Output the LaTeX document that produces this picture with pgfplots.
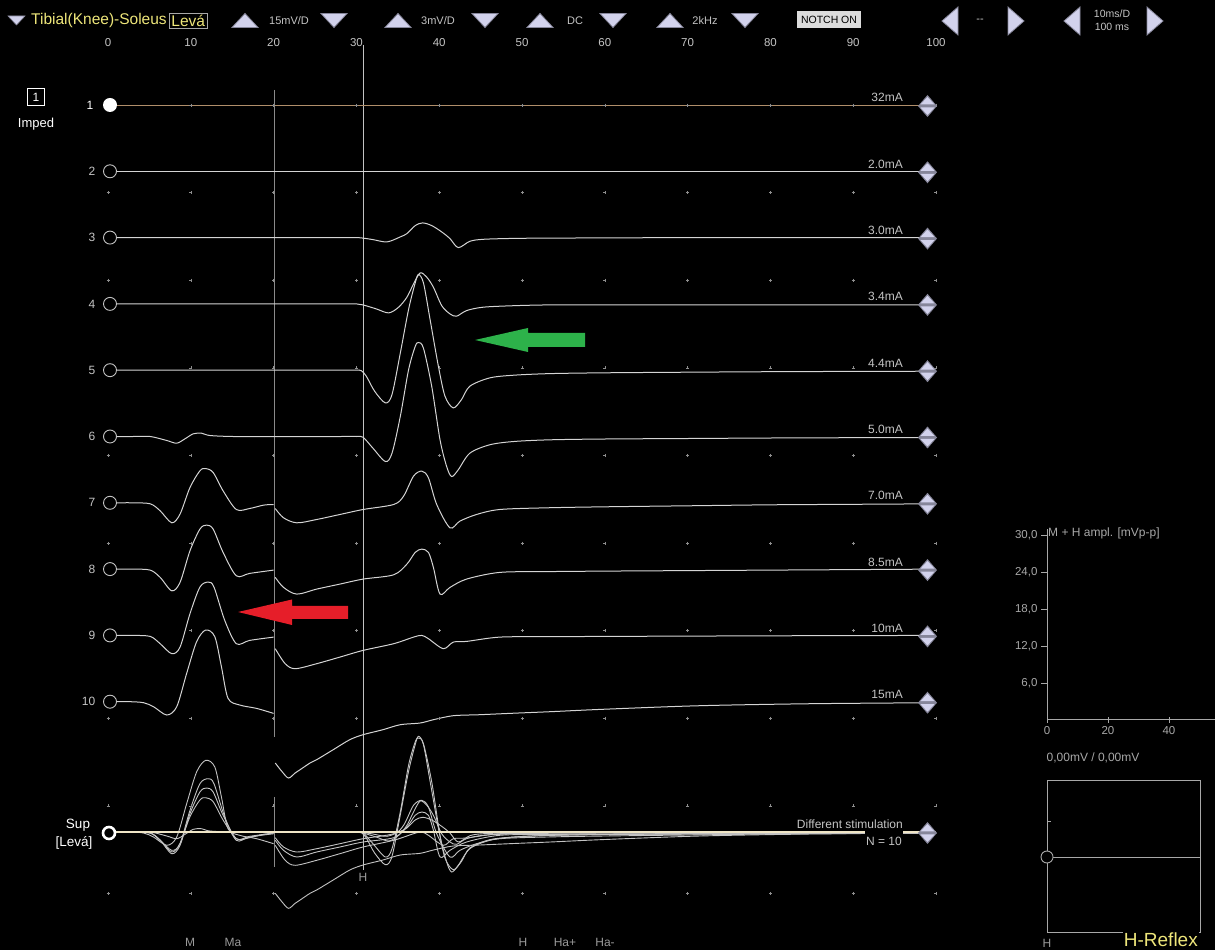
\documentclass[border=0pt]{standalone}
\usepackage{pgfplots}
\usepackage{pgfplotstable}
\pgfplotsset{compat=1.18}
\usepackage{fontspec}
\setmainfont{Liberation Sans}

\definecolor{trc}{HTML}{D4D4D4}
\definecolor{txt}{HTML}{C4C4C4}
\definecolor{dimtxt}{HTML}{9A9A9A}
\definecolor{ylw}{HTML}{EEE67A}
\definecolor{tanline}{HTML}{B08E6A}
\definecolor{cream}{HTML}{EFE5C6}
\definecolor{lav}{HTML}{D2D2EC}
\definecolor{btnedge}{HTML}{86869A}
\definecolor{gridc}{HTML}{8E8E8E}
\definecolor{cur20}{HTML}{8A8A8A}
\definecolor{curH}{HTML}{C2C2C2}
\definecolor{notch}{HTML}{DCDCDC}
\definecolor{pgray}{HTML}{A8A8A8}
\definecolor{arrowg}{HTML}{2DB24A}
\definecolor{arrowr}{HTML}{E61E29}

\newcommand\fs[1]{\fontsize{#1}{#1}\selectfont}

% time (ms) against amplitude (display units, positive = up) for each stimulus
\pgfplotstableread{
t a
1.0 0
100 0
}\tFlat
\pgfplotstableread{
t a
1.0 0
6 0
12 0
18 0
24 0
28 0
30.0 0
30.8 -0.5
32.0 -2
33.7 -4.3
35.3 0.7
36.1 4
37.1 12
38.0 14.7
39.1 12
40.3 5.7
41.3 -1
42.3 -10
43.7 -3.7
45.3 -1.7
49 -0.8
53.4 -0.5
60 -0.3
70 0
80 0
90 0
100 0
}\tIII
\pgfplotstableread{
t a
1.0 0
6 0
12 0
18 0
24 0
28 0
30.0 0
30.8 -1
32.4 -5
33.9 -9
35.1 -3.3
36.1 6.7
36.9 20
37.7 31
38.5 26.7
39.3 16.7
40.3 -1.7
41.3 -10
42.1 -12.3
43.3 -6.7
45.3 -3.3
49 -1.8
53.4 -1
60 -1
70 -1
80 -1
90 -1
100 -1
}\tIV
\pgfplotstableread{
t a
1.0 0
6 0
12 0
18 0
24 0
28 0
30.0 0
30.6 -0.5
31.2 -6
32.2 -21
33.5 -32.7
34.3 -24.3
35.3 17
36.3 60.7
37.1 87.3
37.5 95.7
38.1 87.3
38.9 50.7
39.9 4
40.7 -26
41.7 -37.7
42.7 -29.3
43.7 -16
46.1 -7.7
49 -5
53.4 -3.4
60 -2.6
70 -2
80 -1.5
90 -1.2
100 -1
}\tV
\pgfplotstableread{
t a
1.0 0
3 0
5.1 0
7.1 -4
8.3 -6.7
9.3 -2.3
10.3 2.7
11.3 3.3
12.3 1
15.1 0
20 0
25 0
28 0
30.0 0
30.8 -0.7
32.0 -11.7
33.5 -25
34.3 -16.7
35.3 20
36.3 66.7
37.1 90
37.5 94
38.1 88.3
39.1 50
40.1 -3.3
40.9 -30
41.5 -40
42.3 -33.3
43.7 -16.7
46.1 -8.3
49 -5
53.4 -3.3
60 -2.5
70 -2
80 -1.5
90 -1.2
100 -1
}\tVI
\pgfplotstableread{
t a
1.0 0
3 0
5.1 -1
6.3 -8
7.7 -20
8.7 -11.3
9.9 15.3
11.1 32
11.8 34.3
12.7 30.3
13.9 12
15.5 -6.7
17.1 -5.7
18.8 -2.3
20.0 -1.7
20.1 nan
20.2 -5.7
21.2 -15
22.8 -20
25.2 -16.7
28.0 -11.7
30.8 -6.7
34.5 -1.7
35.7 6.7
36.9 26.7
37.9 31.7
38.7 25
39.7 -1.7
41.3 -25
42.5 -18.3
44.5 -11.7
47.3 -6.7
53 -5
60 -4
70 -3
80 -2
90 -1.5
100 -1
}\tVII
\pgfplotstableread{
t a
1.0 0
3 0
5.1 -1
6.3 -8.3
7.7 -21.7
8.7 -13.3
9.9 18.3
11.1 40
11.9 44
12.7 40
13.9 16.7
15.5 -6.7
17.1 -4.3
20.0 -1
20.1 nan
20.2 -8.3
21.2 -18.3
22.8 -25
25.2 -20
28.0 -15
30.8 -10
34.5 -5.7
36.1 5
37.1 16.7
37.9 20
38.7 16.7
39.3 1.7
40.1 -25
41.3 -18.3
43.3 -10
47.3 -3.3
53 -2.5
60 -2
70 -1.5
80 -1
90 -0.5
100 0
}\tVIII
\pgfplotstableread{
t a
1.0 0
3 0
5.1 -1
6.3 -8.3
7.7 -18.3
8.7 -11.7
9.9 21.7
11.1 48.3
12.1 53.3
12.8 48.3
14.1 15
15.5 -8.3
17.1 -5
20.0 -1.7
20.1 nan
20.2 -13.3
21.4 -28.3
22.6 -33.3
25.2 -28.3
28.0 -21.7
30.8 -15
34.5 -8.3
36.9 -1.7
37.9 0
38.7 -3.3
40.5 -13.3
41.7 -6.7
43.3 -6
47.3 -1.7
53 -1.3
60 -1
70 -0.7
80 -0.4
90 -0.2
100 0
}\tIX
\pgfplotstableread{
t a
1.0 0
2.7 0
4.3 -1
5.5 -5
7.1 -13.3
8.3 -5
9.5 28.3
10.7 60
11.8 71.7
12.9 65
13.7 35
14.5 3.3
15.9 -3.3
17.95 -6.7
20.0 -11.7
20.1 nan
20.2 -61.3
21.0 -69.7
21.8 -76.3
22.6 -71.3
23.2 -68
24.4 -61.3
25.2 -58
27.2 -48
29.2 -38
30.8 -33
33.2 -28
35.3 -23
37.7 -21.3
39.3 -18
41.7 -14
44.9 -13
49 -11.5
53.4 -10
60 -7.5
71.5 -4
85 -2
100 -1
}\tX

\pgfplotsset{
  tr/.style={trc, line width=1pt, smooth},
  sp/.style={trc!92!black, line width=0.9pt, smooth},
}
\newcommand\rowplot[3]{\addplot[#3] table[x=t, y expr={#2-(\thisrow{a})}] {#1};}

\tikzset{
  ui/.style={text=txt, font=\fs{12}, inner sep=0pt},
}
\newcommand\upbtn[1]{\filldraw[fill=lav, draw=btnedge, line width=0.8pt] (#1-13,27.5) -- (#1+13,27.5) -- (#1,13.5) -- cycle;}
\newcommand\dnbtn[1]{\filldraw[fill=lav, draw=btnedge, line width=0.8pt] (#1-13,13.5) -- (#1+13,13.5) -- (#1,27.5) -- cycle;}
\newcommand\lfbtn[1]{\filldraw[fill=lav, draw=btnedge, line width=0.8pt] (#1+8,7) -- (#1+8,35) -- (#1-8,21) -- cycle;}
\newcommand\rtbtn[1]{\filldraw[fill=lav, draw=btnedge, line width=0.8pt] (#1-8,7) -- (#1-8,35) -- (#1+8,21) -- cycle;}
\newcommand\diamondbtn[1]{%
  \fill[btnedge] (918,#1+1) -- (927.5,#1-10) -- (937,#1+1) -- (927.5,#1+12) -- cycle;
  \fill[lav] (920.5,#1-0.5) -- (927.5,#1-8) -- (934.5,#1-0.5) -- cycle;
  \fill[lav] (920.5,#1+2.5) -- (927.5,#1+10) -- (934.5,#1+2.5) -- cycle;}

\begin{document}
\begin{tikzpicture}
% screen background and cursor lines (pixel-like coordinates, y downwards)
\begin{scope}[x=1pt, y=-1pt, shift={(0,950pt)}]
  \fill[black] (0,0) rectangle (1215,950);
  \draw[cur20, line width=0.9pt] (274,90) -- (274,737);
  \draw[cur20, line width=0.9pt] (274,797) -- (274,867);
  \draw[curH, line width=0.9pt] (363,45) -- (363,870);
\end{scope}

% traces: x in ms, y in screen rows
\begin{axis}[at={(0pt,0pt)}, anchor=south west, width=1215pt, height=950pt,
  scale only axis, xmin=-13.0435, xmax=133.6957, ymin=0, ymax=950,
  y dir=reverse, hide axis, clip=false, unbounded coords=jump]
  \addplot[only marks, mark=+, mark size=1.5pt, gridc, mark options={line width=0.5pt}] coordinates {
  (0,105)(10,105)(20,105)(30,105)(40,105)(50,105)(60,105)(70,105)(80,105)(90,105)(100,105)
  (0,192.6)(10,192.6)(20,192.6)(30,192.6)(40,192.6)(50,192.6)(60,192.6)(70,192.6)(80,192.6)(90,192.6)(100,192.6)
  (0,280.2)(10,280.2)(20,280.2)(30,280.2)(40,280.2)(50,280.2)(60,280.2)(70,280.2)(80,280.2)(90,280.2)(100,280.2)
  (0,367.8)(10,367.8)(20,367.8)(30,367.8)(40,367.8)(50,367.8)(60,367.8)(70,367.8)(80,367.8)(90,367.8)(100,367.8)
  (0,455.4)(10,455.4)(20,455.4)(30,455.4)(40,455.4)(50,455.4)(60,455.4)(70,455.4)(80,455.4)(90,455.4)(100,455.4)
  (0,543)(10,543)(20,543)(30,543)(40,543)(50,543)(60,543)(70,543)(80,543)(90,543)(100,543)
  (0,630.6)(10,630.6)(20,630.6)(30,630.6)(40,630.6)(50,630.6)(60,630.6)(70,630.6)(80,630.6)(90,630.6)(100,630.6)
  (0,718.2)(10,718.2)(20,718.2)(30,718.2)(40,718.2)(50,718.2)(60,718.2)(70,718.2)(80,718.2)(90,718.2)(100,718.2)
  (0,805.8)(10,805.8)(20,805.8)(30,805.8)(40,805.8)(50,805.8)(60,805.8)(70,805.8)(80,805.8)(90,805.8)(100,805.8)
  (0,893.4)(10,893.4)(20,893.4)(30,893.4)(40,893.4)(50,893.4)(60,893.4)(70,893.4)(80,893.4)(90,893.4)(100,893.4)
  };
  % individual responses, one row per stimulus intensity
  \rowplot{\tFlat}{105}{tanline, line width=1pt}
  \rowplot{\tFlat}{171.3}{tr}
  \rowplot{\tIII}{237.6}{tr}
  \rowplot{\tIV}{303.9}{tr}
  \rowplot{\tV}{370.2}{tr}
  \rowplot{\tVI}{436.5}{tr}
  \rowplot{\tVII}{502.8}{tr}
  \rowplot{\tVIII}{569.1}{tr}
  \rowplot{\tIX}{635.4}{tr}
  \rowplot{\tX}{701.7}{tr}
  % superimposed responses
  \rowplot{\tIII}{832}{sp}
  \rowplot{\tIV}{832}{sp}
  \rowplot{\tV}{832}{sp}
  \rowplot{\tVI}{832}{sp}
  \rowplot{\tVII}{832}{sp}
  \rowplot{\tVIII}{832}{sp}
  \rowplot{\tIX}{832}{sp}
  \rowplot{\tX}{832}{sp}
  \rowplot{\tFlat}{832}{cream, line width=2.6pt}
\end{axis}

\begin{scope}[x=1pt, y=-1pt, shift={(0,950pt)}]
  % header bar
  \filldraw[fill=lav, draw=btnedge, line width=0.6pt] (8,16) -- (25,16) -- (16.5,25) -- cycle;
  \node[anchor=west, text=ylw, font=\fs{15.5}, inner sep=0pt] at (31,21) {Tibial(Knee)-Soleus};
  \node[anchor=west, text=ylw, font=\fs{15.5}, draw=pgray, line width=0.8pt, inner sep=2pt] at (169,21) {Levá};
  \upbtn{245}\node[ui, font=\fs{11}] at (289,21) {15mV/D};\dnbtn{334}
  \upbtn{398}\node[ui, font=\fs{11}] at (438,21) {3mV/D};\dnbtn{485}
  \upbtn{540}\node[ui, font=\fs{11}] at (575,21) {DC};\dnbtn{613}
  \upbtn{670}\node[ui, font=\fs{11}] at (705,21) {2kHz};\dnbtn{745}
  \node[fill=notch, text=black, font=\fs{10.5}, minimum width=64pt, minimum height=17pt, inner sep=1pt] at (829,20) {NOTCH ON};
  \lfbtn{950}\node[ui, font=\fs{11}] at (980,21) {-{}-};\rtbtn{1016}
  \lfbtn{1072}\node[ui, font=\fs{10.5}] at (1112,14) {10ms/D};
  \node[ui, font=\fs{10.5}] at (1112,27) {100 ms};\rtbtn{1155}
  % time scale
  \foreach \k in {0,...,10} {
    \pgfmathsetmacro\px{108+82.8*\k}
    \pgfmathtruncatemacro\lab{10*\k}
    \node[ui, font=\fs{11.5}] at (\px,43) {\lab};
  }
  % channel and row labels
  \node[draw=white, line width=0.8pt, text=white, minimum size=17pt, inner sep=0pt, font=\fs{12}] at (36,97) {1};
  \node[text=white, font=\fs{13}, inner sep=0pt] at (36,124) {Imped};
  \fill[white] (110,105) circle (7);
  \node[text=white, font=\fs{12}, inner sep=0pt] at (90,105.5) {1};
  \foreach \B/\n in {171.3/2,237.6/3,303.9/4,370.2/5,436.5/6,502.8/7,569.1/8,635.4/9,701.7/10} {
    \filldraw[draw=txt, fill=black, line width=0.9pt] (110,\B) circle (6.5);
    \node[ui, anchor=east] at (95.5,\B) {\n};
  }
  \foreach \B/\l in {105/32mA,171.3/2.0mA,237.6/3.0mA,303.9/3.4mA,370.2/4.4mA,436.5/5.0mA,502.8/7.0mA,569.1/8.5mA,635.4/10mA,701.7/15mA} {
    \node[ui, anchor=base east] at (903,\B-3) {\l};
    \diamondbtn{\B}
  }
  % superimposition row
  \filldraw[draw=white, fill=black, line width=2.6pt] (109,833) circle (6);
  \node[text=white, font=\fs{13.5}, inner sep=0pt] at (78,825) {Sup};
  \node[text=white, font=\fs{13.5}, inner sep=0pt] at (74,843) {[Levá]};
  \node[ui, anchor=base east] at (903,829) {Different stimulation};
  \node[ui, anchor=base east, fill=black, text height=16pt, text depth=2pt, inner xsep=1pt] at (903,846) {N = 10};
  \diamondbtn{832}
  % latency markers
  \node[ui, text=dimtxt] at (363,877) {H};
  \node[ui, text=dimtxt] at (190,942) {M};
  \node[ui, text=dimtxt] at (233,942) {Ma};
  \node[ui, text=dimtxt] at (523,942) {H};
  \node[ui, text=dimtxt] at (565,942) {Ha+};
  \node[ui, text=dimtxt] at (605,942) {Ha-};
  % annotation arrows
  \fill[arrowr] (238,612) -- (292,599.5) -- (292,606) -- (348,606) -- (348,619) -- (292,619) -- (292,625) -- cycle;
  \fill[arrowg] (475,340) -- (528,328) -- (528,333) -- (585,333) -- (585,347) -- (528,347) -- (528,352) -- cycle;
  % amplitude panel caption and left axis line
  \draw[pgray, line width=1pt] (1047,723) -- (1047,529);
  \node[ui, anchor=west, text=pgray] at (1048,533) {M + H ampl. [mVp-p]};
  \node[ui, text=pgray] at (1093,758) {0,00mV / 0,00mV};
  % H-reflex box
  \draw[pgray, line width=0.9pt] (1047,780) rectangle (1200,932);
  \draw[pgray, line width=0.9pt] (1047,857) -- (1200,857);
  \draw[pgray, line width=0.9pt] (1047,821) -- (1051,821);
  \filldraw[draw=pgray, fill=black, line width=0.9pt] (1047,857) circle (6);
  \node[ui, text=dimtxt] at (1047,943) {H};
  \node[text=ylw, font=\fs{19}, fill=black, inner sep=1pt, anchor=base east] at (1199,947) {H-Reflex};
\end{scope}

% amplitude versus intensity panel (empty)
\begin{axis}[at={(1047pt,230pt)}, anchor=south west, scale only axis,
  width=168pt, height=190pt, xmin=0, xmax=55.1, ymin=0, ymax=30.8,
  axis lines*=left, axis line style={pgray, line width=1pt},
  xtick={0,20,40}, xticklabels={0,20,40},
  ytick={6,12,18,24,30}, yticklabels={{6,0},{12,0},{18,0},{24,0},{30,0}},
  xtick align=center, ytick align=outside, major tick length=6pt,
  tick style={pgray, line width=0.8pt},
  tick label style={text=pgray, font=\fs{11.5}},
  /pgf/number format/assume math mode=true, clip=false]
\end{axis}

\pgfresetboundingbox
\path[use as bounding box] (0,0) rectangle (1215pt,950pt);
\end{tikzpicture}
\end{document}
